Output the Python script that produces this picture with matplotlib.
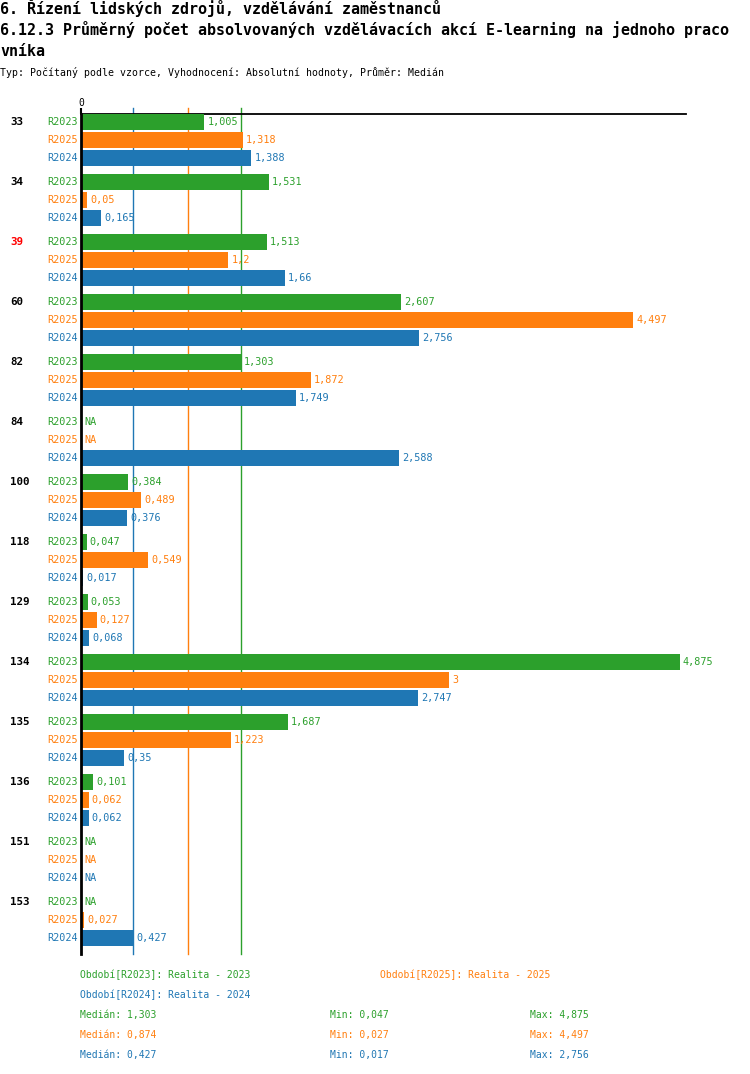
import numpy as np
import matplotlib
matplotlib.use('Agg')
import matplotlib.pyplot as plt

# data (NaN = NA)
groups = ['33', '34', '39', '60', '82', '84', '100', '118', '129', '134', '135', '136', '151', '153']
series = ['R2023', 'R2025', 'R2024']
colors = ['#2ca02c', '#ff7f0e', '#1f77b4']
r2023 = [1.005, 1.531, 1.513, 2.607, 1.303, np.nan, 0.384, 0.047, 0.053, 4.875, 1.687, 0.101, np.nan, np.nan]
r2025 = [1.318, 0.05, 1.2, 4.497, 1.872, np.nan, 0.489, 0.549, 0.127, 3, 1.223, 0.062, np.nan, 0.027]
r2024 = [1.388, 0.165, 1.66, 2.756, 1.749, 2.588, 0.376, 0.017, 0.068, 2.747, 0.35, 0.062, np.nan, 0.427]
highlight = '39'

legend_names = ['Realita - 2023', 'Realita - 2025', 'Realita - 2024']
medians = [1.303, 0.874, 0.427]
mins = [0.047, 0.027, 0.017]
maxs = [4.875, 4.497, 2.756]

title1 = '6. Řízení lidských zdrojů, vzdělávání zaměstnanců'
title2 = '6.12.3 Průměrný počet absolvovaných vzdělávacích akcí E-learning na jednoho praco'
title3 = 'vníka'
subtitle = 'Typ: Počítaný podle vzorce, Vyhodnocení: Absolutní hodnoty, Průměr: Medián'

W, H = 750, 1074
MONO = 'DejaVu Sans Mono'
plt.rcParams['font.family'] = [MONO]


def fmt(v):
    return f'{v:g}'.replace('.', ',')


def fx(x):
    return x / W


def fy(y):
    return 1 - y / H


fig = plt.figure(figsize=(W / 100, H / 100), dpi=100)

# plot area in pixels: x 81..686, y 114..954
ax = fig.add_axes([fx(81), fy(954), fx(686 - 81), (954 - 114) / H])
scale = 122.8  # px per unit
ax.set_xlim(0, (686 - 81) / scale)
ax.set_ylim(954 - 122, 114 - 122)

values = [r2023, r2025, r2024]
for g, name in enumerate(groups):
    for k in range(3):
        y = g * 60 + k * 18
        v = values[k][g]
        c = colors[k]
        ax.annotate(series[k], xy=(0, y), xytext=(-2.3, 0), textcoords='offset points',
                    ha='right', va='center', color=c, fontsize=7.3, annotation_clip=False)
        if np.isnan(v):
            ax.annotate('NA', xy=(0, y), xytext=(2.2, 0), textcoords='offset points',
                        ha='left', va='center', color=c, fontsize=7.3)
        else:
            ax.barh(y, v, height=16, color=c, left=0, zorder=3)
            ax.annotate(fmt(v), xy=(v, y), xytext=(2.2, 0), textcoords='offset points',
                        ha='left', va='center', color=c, fontsize=7.3, annotation_clip=False)
    ax.annotate(name, xy=(0, g * 60), xytext=(-51, 0), textcoords='offset points',
                ha='left', va='center', fontsize=7.8, fontweight='bold',
                color='red' if name == highlight else 'black', annotation_clip=False)

for m, c in zip(medians, colors):
    ax.axvline(m, ymin=0, ymax=1.007, color=c, lw=1, zorder=2, clip_on=False)

for s in ['right', 'bottom']:
    ax.spines[s].set_visible(False)
ax.spines['top'].set_linewidth(1.3)
ax.spines['left'].set_linewidth(2)
ax.spines['left'].set_zorder(4)
ax.xaxis.tick_top()
ax.set_xticks([0])
ax.set_xticklabels(['0'])
ax.tick_params(axis='x', length=4, width=1.5, pad=0.5, labelsize=7)
ax.set_yticks([])

# titles
fig.text(fx(0), fy(14), title1, fontsize=10.8, fontweight='bold', va='baseline', ha='left')
fig.text(fx(0), fy(35), title2, fontsize=10.8, fontweight='bold', va='baseline', ha='left')
fig.text(fx(0), fy(56), title3, fontsize=10.8, fontweight='bold', va='baseline', ha='left')
fig.text(fx(0), fy(76), subtitle, fontsize=7.1, va='baseline', ha='left')

# legend
leg_pos = [(80, 975), (380, 975), (80, 995)]
for (x, y), s, n, c in zip(leg_pos, series, legend_names, colors):
    fig.text(fx(x), fy(y), f'Období[{s}]: {n}', fontsize=7, color=c, va='center', ha='left')

for i, c in enumerate(colors):
    y = 1015 + i * 20
    fig.text(fx(80), fy(y), 'Medián: ' + fmt(medians[i]), fontsize=7, color=c, va='center')
    fig.text(fx(330), fy(y), 'Min: ' + fmt(mins[i]), fontsize=7, color=c, va='center')
    fig.text(fx(530), fy(y), 'Max: ' + fmt(maxs[i]), fontsize=7, color=c, va='center')

fig.savefig('out.png', dpi=100)
